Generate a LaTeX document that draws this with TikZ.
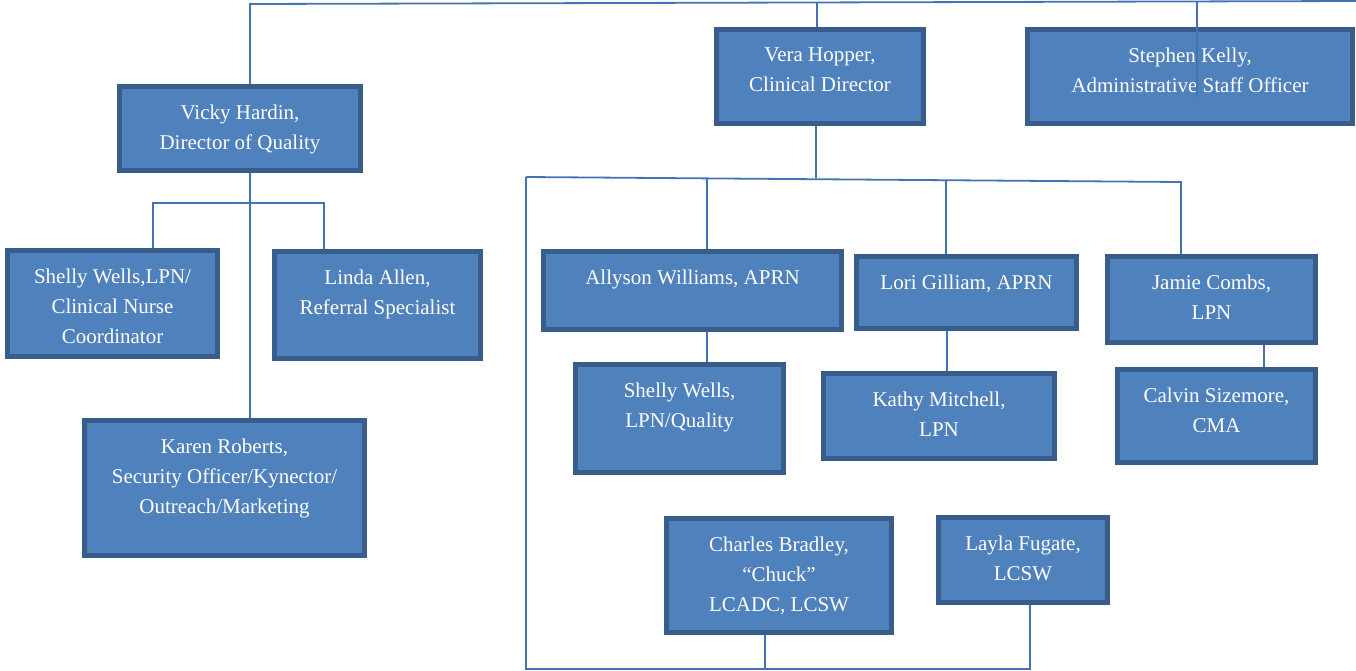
\documentclass[tikz,border=0pt]{standalone}
\usepackage{fontspec}
\setmainfont{Liberation Serif}
\usetikzlibrary{calc}
\pgfdeclarelayer{background}
\pgfsetlayers{background,main}
\definecolor{boxfill}{HTML}{4F81BD}
\definecolor{boxedge}{HTML}{385D8A}
\definecolor{linkcol}{HTML}{4473B5}
\tikzset{
  orgbox/.style={draw=boxedge, fill=boxfill, line width=5pt, inner sep=0pt, outer sep=0pt, rectangle},
  orgtext/.style={text=white, align=center, inner sep=0pt, font=\fontsize{21pt}{30pt}\selectfont},
  link/.style={draw=linkcol, line width=1.8pt}
}
\newcommand\orgunit[6]{%
  \node[orgbox, anchor=north west, minimum width={#4pt-#2pt-5pt}, minimum height={#5pt-#3pt-5pt}] (#1) at (#2+2.5,#3+2.5) {};
  \node[orgtext, anchor=north] (#1-t) at ([yshift=-18.5pt]#1.north) {#6};
}
\begin{document}
\begin{tikzpicture}[x=1pt,y=-1pt]
\useasboundingbox (0,0) rectangle (1356,670);

\orgunit{vicky}{117}{84}{363}{173}{Vicky Hardin,\\Director of Quality}
\orgunit{vera}{714}{27}{926}{126}{Vera Hopper,\\Clinical Director}
\orgunit{stephen}{1025}{27}{1355}{126}{Stephen Kelly,\\Administrative Staff Officer}
\orgunit{shelly1}{5}{248}{220}{359}{Shelly Wells,LPN/\\Clinical Nurse\\Coordinator}
\orgunit{linda}{272}{249}{483}{361}{Linda Allen,\\Referral Specialist}
\orgunit{karen}{82}{418}{367}{558}{Karen Roberts,\\Security Officer/Kynector/\\Outreach/Marketing}
\orgunit{allyson}{541}{249}{844}{332}{Allyson Williams, APRN}
\orgunit{lori}{854}{254}{1079}{331}{Lori Gilliam, APRN}
\orgunit{jamie}{1105}{254}{1318}{345}{Jamie Combs,\\LPN}
\orgunit{shelly2}{573}{362}{786}{475}{Shelly Wells,\\LPN/Quality}
\orgunit{kathy}{821}{371}{1057}{461}{Kathy Mitchell,\\LPN}
\orgunit{calvin}{1115}{367}{1318}{465}{Calvin Sizemore,\\CMA}
\orgunit{charles}{664}{516}{894}{635}{Charles Bradley,\\“Chuck”\\LCADC, LCSW}
\orgunit{layla}{936}{515}{1110}{605}{Layla Fugate,\\LCSW}

\begin{pgfonlayer}{background}
% top line
\coordinate (topL) at (250,4);
\coordinate (topR) at (1356,1);
\coordinate (veraT) at (817,2);
\draw[link] (topR) -- (topL) -- (topL |- vicky.north);
\draw[link] (veraT) -- (veraT |- vera.north);
% Vicky's branch
\coordinate (vdn) at (250,173);
\coordinate (vL) at (153,203);
\coordinate (vR) at (324,203);
\draw[link] (vdn) -- (vdn |- karen.north);
\draw[link] (vL |- shelly1.north) -- (vL) -- (vR) -- (vR |- linda.north);
% Vera's branch
\coordinate (cbL) at (526,177);
\coordinate (cbR) at (1181,182);
\coordinate (veraB) at (816,178);
\coordinate (alT) at (707,178);
\coordinate (loT) at (946,180);
\draw[link] (veraB) -- (veraB |- vera.south);
\draw[link] (cbL) -- (cbR) -- (cbR |- jamie.north);
\draw[link] (alT) -- (alT |- allyson.north);
\draw[link] (loT) -- (loT |- lori.north);
\coordinate (alB) at (707,332);
\draw[link] (alB) -- (alB |- shelly2.north);
\coordinate (loB) at (947,331);
\draw[link] (loB) -- (loB |- kathy.north);
\coordinate (jaB) at (1264,345);
\draw[link] (jaB) -- (jaB |- calvin.north);
% bottom loop
\coordinate (botL) at (526,669);
\coordinate (botC) at (765,669);
\coordinate (botR) at (1030,669);
\draw[link] (cbL) -- (botL) -- (botR) -- (botR |- layla.south);
\draw[link] (botC) -- (botC |- charles.south);
\end{pgfonlayer}

% Stephen's line, drawn over his box
\coordinate (stT) at (1197,1);
\coordinate (stE) at (1197,97);
\draw[link] (stT) -- (stE);
\end{tikzpicture}
\end{document}
